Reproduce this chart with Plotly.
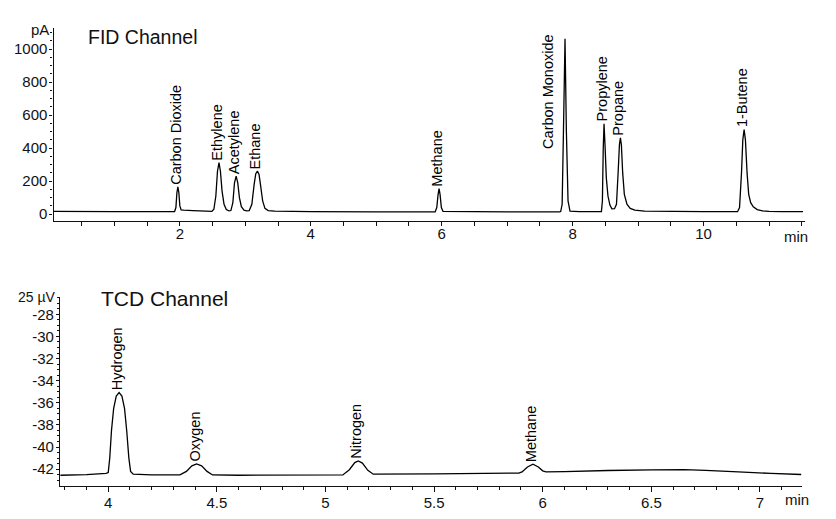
import plotly.graph_objects as go

# ---------------- DATA ----------------
# FID channel trace: retention time (min) and signal (pA)
fid_time = [0.07, 1.0, 1.85, 1.92, 1.94, 1.955, 1.97, 1.985, 2.0, 2.02, 2.06, 2.2, 2.4,
            2.49, 2.52, 2.55, 2.575, 2.598, 2.62, 2.645, 2.675, 2.71, 2.75,
            2.78, 2.81, 2.835, 2.86, 2.885, 2.91, 2.94, 2.98, 3.02,
            3.06, 3.10, 3.135, 3.16, 3.185, 3.21, 3.235, 3.265, 3.30, 3.35, 3.45,
            4.0, 5.0, 5.90, 5.925, 5.945, 5.96, 5.975, 5.995, 6.02, 7.0,
            7.80, 7.818, 7.84, 7.86, 7.884, 7.905, 7.93, 7.96, 8.1,
            8.44, 8.455, 8.468, 8.48, 8.495, 8.515, 8.54, 8.57, 8.60,
            8.64, 8.67, 8.695, 8.715, 8.73, 8.745, 8.765, 8.79, 8.83, 8.88, 8.95, 9.1,
            10.0, 10.52, 10.55, 10.58, 10.60, 10.62, 10.64, 10.665, 10.69, 10.72, 10.76,
            10.82, 10.9, 11.0, 11.2, 11.52]
fid_signal = [17, 16, 15, 16, 40, 130, 165, 130, 50, 26, 24, 22, 18,
              17, 30, 110, 260, 312, 260, 140, 60, 28, 20,
              22, 70, 190, 231, 190, 100, 45, 24, 20,
              22, 60, 180, 245, 261, 240, 170, 80, 35, 22, 18,
              15, 14, 14, 40, 120, 155, 120, 40, 17, 14,
              14, 16, 60, 500, 1062, 500, 80, 18, 15,
              16, 80, 400, 547, 420, 220, 110, 55, 32,
              33, 60, 250, 420, 463, 420, 250, 120, 60, 35, 24, 18,
              15, 15, 40, 250, 450, 513, 450, 250, 120, 70, 45,
              28, 20, 17, 16, 16]

# TCD channel trace: retention time (min) and signal (µV)
tcd_time = [3.78, 3.9, 3.99, 4.0, 4.007, 4.015, 4.025, 4.037, 4.05, 4.063, 4.075, 4.085,
            4.095, 4.103, 4.115, 4.2, 4.33, 4.36, 4.385, 4.407, 4.43, 4.455, 4.48, 4.6,
            5.08, 5.11, 5.135, 5.151, 5.17, 5.195, 5.22, 5.5, 5.89,
            5.905, 5.93, 5.955, 5.98, 6.0, 6.015,
            6.1, 6.3, 6.5, 6.65, 6.75, 6.9, 7.05, 7.19]
tcd_signal = [-42.55, -42.5, -42.38, -42.3, -41.0, -38.5, -36.5, -35.4, -35.08, -35.4, -36.5, -38.5,
              -41.0, -42.2, -42.45, -42.52, -42.52, -42.2, -41.7, -41.52, -41.7, -42.2, -42.52, -42.55,
              -42.52, -42.05, -41.4, -41.25, -41.45, -42.1, -42.45, -42.42, -42.35,
              -42.25, -41.8, -41.55, -41.8, -42.15, -42.25,
              -42.22, -42.12, -42.06, -42.04, -42.1, -42.25, -42.38, -42.48]

# peak labels
fid_peak_names = ["Carbon Dioxide", "Ethylene", "Acetylene", "Ethane", "Methane",
                  "Carbon Monoxide", "Propylene", "Propane", "1-Butene"]
fid_peak_times = [1.97, 2.598, 2.86, 3.185, 5.96, 7.884, 8.48, 8.73, 10.62]
fid_peak_heights = [165, 312, 231, 261, 155, 1062, 547, 463, 513]

tcd_peak_names = ["Hydrogen", "Oxygen", "Nitrogen", "Methane"]
tcd_peak_times = [4.05, 4.407, 5.151, 5.955]
tcd_peak_heights = [-35.08, -41.52, -41.25, -41.55]

fid_yticks = [0, 200, 400, 600, 800, 1000]
tcd_yticks = [-42, -40, -38, -36, -34, -32, -30, -28]
tcd_yticklabels = ["-42", "-40", "-38", "-36", "-34", "-32", "-30", "-28"]

# ---------------- FIGURE ----------------
W, H = 836, 519
SANS = "Liberation Sans, Arial, sans-serif"
TICKFONT = dict(family=SANS, size=15, color="#111")


def px(xp):
    return xp / W


def py(yp):
    return 1 - yp / H


fig = go.Figure()
fig.add_trace(go.Scatter(x=fid_time, y=fid_signal, mode="lines",
                         line=dict(color="black", width=1.3, simplify=False),
                         xaxis="x", yaxis="y", hoverinfo="skip", showlegend=False))
fig.add_trace(go.Scatter(x=tcd_time, y=tcd_signal, mode="lines",
                         line=dict(color="black", width=1.3, simplify=False),
                         xaxis="x2", yaxis="y2", hoverinfo="skip", showlegend=False))

axis_common = dict(showline=True, linecolor="#111", linewidth=1.3, showgrid=False,
                   zeroline=False, ticks="outside", tickcolor="#111", tickwidth=1,
                   tickfont=TICKFONT, fixedrange=True)

fig.update_layout(
    width=W, height=H, margin=dict(l=0, r=0, t=0, b=0),
    paper_bgcolor="white", plot_bgcolor="white", showlegend=False,
    xaxis=dict(axis_common, domain=[px(53.5), px(805)], range=[0.07, 11.55], anchor="y",
               tickmode="linear", tick0=0, dtick=2, ticklen=4, ticklabelstandoff=-5,
               minor=dict(tickmode="linear", tick0=0, dtick=0.5, ticks="outside",
                          ticklen=4, tickcolor="#111", showgrid=False)),
    yaxis=dict(axis_common, domain=[py(221.7), py(28.3)], range=[-40.4, 1126.7], anchor="x",
               tickmode="array", tickvals=fid_yticks, ticklen=3, ticklabelstandoff=-1,
               minor=dict(tickmode="linear", tick0=0, dtick=50, ticks="outside",
                          ticklen=2, tickcolor="#111", showgrid=False)),
    xaxis2=dict(axis_common, domain=[px(60), px(802.3)], range=[3.778, 7.195], anchor="y2",
                tickmode="linear", tick0=0, dtick=0.5, ticklen=5, ticklabelstandoff=-2,
                minor=dict(tickmode="linear", tick0=0, dtick=0.1, ticks="outside",
                           ticklen=3, tickcolor="#111", showgrid=False)),
    yaxis2=dict(axis_common, domain=[py(487.5), py(298.3)], range=[-43.486, -26.45], anchor="x2",
                tickmode="array", tickvals=tcd_yticks, ticktext=tcd_yticklabels, ticklen=3,
                ticklabelstandoff=-1,
                minor=dict(tickmode="linear", tick0=0, dtick=0.5, ticks="outside",
                           ticklen=2, tickcolor="#111", showgrid=False)),
)

ann = []
for name, t, h in zip(fid_peak_names, fid_peak_times, fid_peak_heights):
    # the tallest peak's label sits beside the peak instead of above it
    beside = name == "Carbon Monoxide"
    ann.append(dict(x=t, y=h, xref="x", yref="y", text=name, textangle=-90, showarrow=False,
                    xanchor="center", yanchor="bottom",
                    xshift=-17 if beside else -2, yshift=-112 if beside else 0,
                    font=dict(family=SANS, size=14.5, color="black")))
for name, t, h in zip(tcd_peak_names, tcd_peak_times, tcd_peak_heights):
    ann.append(dict(x=t, y=h, xref="x2", yref="y2", text=name, textangle=-90, showarrow=False,
                    xanchor="center", yanchor="bottom", xshift=-2, yshift=0,
                    font=dict(family=SANS, size=14.5, color="black")))

# titles and unit labels
ann += [
    dict(x=px(86), y=py(37.5), xref="paper", yref="paper", text="FID Channel", showarrow=False,
         xanchor="left", yanchor="middle", font=dict(family=SANS, size=19.5, color="#111")),
    dict(x=px(99), y=py(300), xref="paper", yref="paper", text="TCD Channel", showarrow=False,
         xanchor="left", yanchor="middle", font=dict(family=SANS, size=21, color="#111")),
    dict(x=px(51), y=py(30), xref="paper", yref="paper", text="pA", showarrow=False,
         xanchor="right", yanchor="middle", font=dict(family=SANS, size=15, color="#111")),
    dict(x=px(58), y=py(298.5), xref="paper", yref="paper", text="25 µV", showarrow=False,
         xanchor="right", yanchor="middle", font=dict(family=SANS, size=14, color="#111")),
    dict(x=px(796), y=py(237), xref="paper", yref="paper", text="min", showarrow=False,
         xanchor="center", yanchor="middle", font=dict(family=SANS, size=15, color="#111")),
    dict(x=px(796.5), y=py(501.7), xref="paper", yref="paper", text="min", showarrow=False,
         xanchor="center", yanchor="middle", font=dict(family=SANS, size=15, color="#111")),
]
fig.update_layout(annotations=ann)

fig.write_html("out.html")
